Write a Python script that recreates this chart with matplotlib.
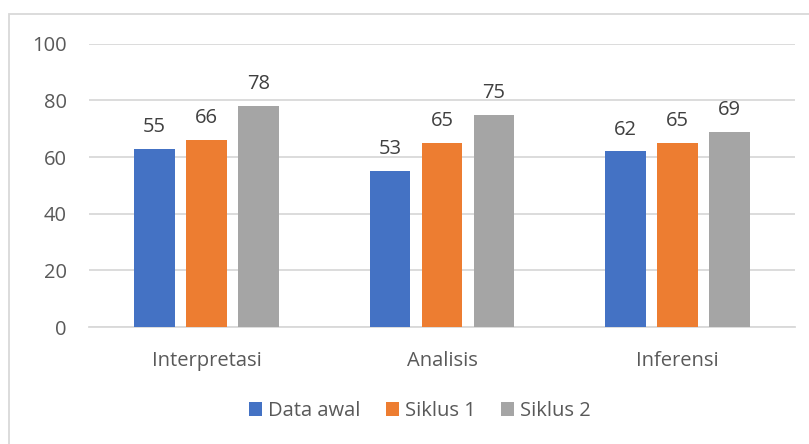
import matplotlib
matplotlib.use("Agg")
import matplotlib.pyplot as plt
from matplotlib.patches import Rectangle
import numpy as np

plt.rcParams['font.family'] = ['Open Sans', 'DejaVu Sans']

categories = ["Interpretasi", "Analisis", "Inferensi"]
series_names = ["Data awal", "Siklus 1", "Siklus 2"]
data_awal = [63, 55, 62]
siklus_1 = [66, 65, 65]
siklus_2 = [78, 75, 69]
label_awal = ["55", "53", "62"]
label_s1 = ["66", "65", "65"]
label_s2 = ["78", "75", "69"]
yticks = [0, 20, 40, 60, 80, 100]

colors = ["#4472C4", "#ED7D31", "#A5A5A5"]
values = [data_awal, siklus_1, siklus_2]
labels = [label_awal, label_s1, label_s2]

FS = 14.5
W, H = 809, 444
fig = plt.figure(figsize=(W / 100, H / 100), dpi=100)
ax = fig.add_axes([89 / W, 1 - 327 / H, (795 - 89) / W, (327 - 43.7) / H])

x = np.arange(len(categories))
bw = 0.174
step = 0.221
for i, (vals, labs, col, name) in enumerate(zip(values, labels, colors, series_names)):
    pos = x + (i - 1) * step
    bars = ax.bar(pos, vals, width=bw, color=col, label=name, zorder=3)
    for b, t in zip(bars, labs):
        ax.annotate(t, (b.get_x() + b.get_width() / 2, b.get_height()),
                    xytext=(0, 8.5), textcoords="offset points",
                    ha="center", va="bottom", fontsize=FS, color="#404040")

ax.set_xlim(-0.5, 2.5)
ax.set_ylim(0, 100)
ax.set_yticks(yticks)
ax.set_xticks(x)
ax.set_xticklabels(categories)
ax.yaxis.grid(True, color="#D9D9D9", linewidth=1.3, zorder=0)
ax.set_axisbelow(True)
for s in ["top", "right", "left"]:
    ax.spines[s].set_visible(False)
ax.spines["bottom"].set_color("#D9D9D9")
ax.spines["bottom"].set_linewidth(1.3)
ax.tick_params(axis="both", length=0, labelsize=FS, colors="#595959")
ax.tick_params(axis="y", pad=16)
ax.tick_params(axis="x", pad=17.5)

leg = fig.legend(loc="center", bbox_to_anchor=(420 / W, 1 - 411 / H), ncol=3,
                 frameon=False, fontsize=FS, handlelength=0.65, handleheight=0.65,
                 handletextpad=0.3, columnspacing=1.25)
for t in leg.get_texts():
    t.set_color("#595959")

fig.patches.append(Rectangle((8.5 / W, -0.1), 1.2, 1.1 - 14.5 / H, transform=fig.transFigure,
                             fill=False, edgecolor="#D9D9D9", linewidth=1.3))

fig.savefig("out.png", dpi=100)
